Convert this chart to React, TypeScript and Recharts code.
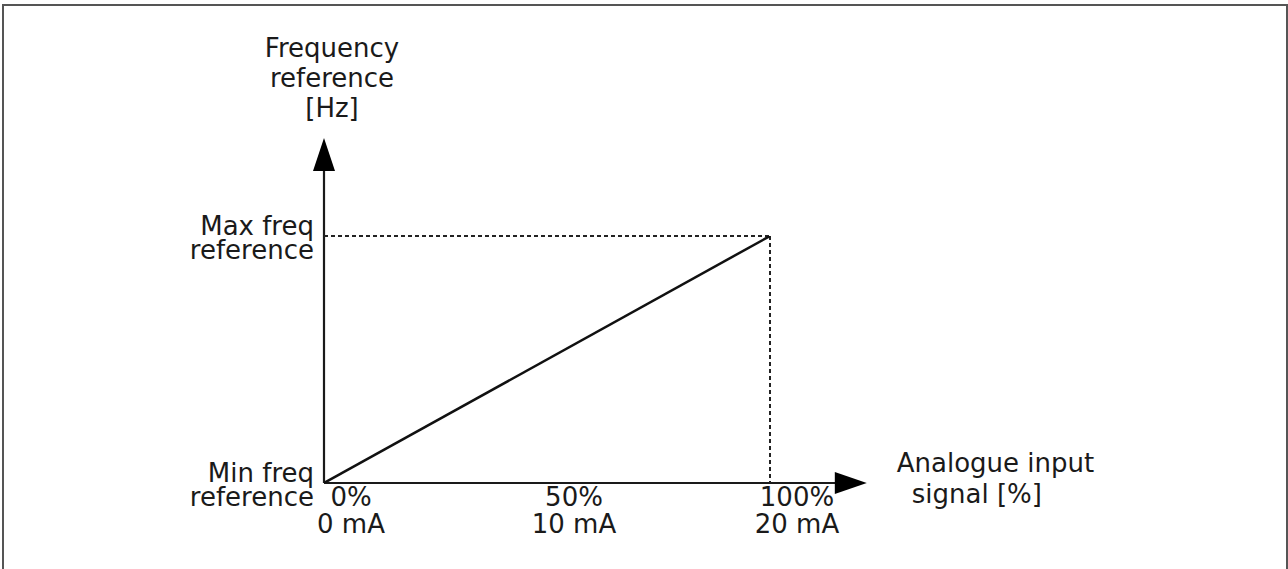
import React from 'react';
import { LineChart, Line, XAxis, YAxis, ReferenceLine } from 'recharts';

// analogue input (%) -> frequency reference (% of span between min and max)
const signalPct = [0, 100];
const freqPct = [0, 100];

const xTicks = [0, 50, 100];
const percentLabels = ['0%', '50%', '100%'];
const currentLabels = ['0 mA', '10 mA', '20 mA'];

const yTicks = [0, 100];
const yTickLabels = [
  ['Min freq', 'reference'],
  ['Max freq', 'reference'],
];

const yTitle = ['Frequency', 'reference', '[Hz]'];
const xTitle = ['Analogue input', 'signal [%]'];

// axes run a bit past the 100% point, ending in arrows
const xAxisEnd = 121.7;
const yAxisEnd = 139.7;

const lineData = signalPct.map((s, i) => ({ signal: s, freq: freqPct[i] }));

const FONT = '"DejaVu Sans", Verdana, sans-serif';
const SIZE = 26;
const INK = '#1a1a1a';

function XTick(props: any) {
  const { x, y, payload } = props;
  const i = xTicks.indexOf(payload.value);
  return (
    <g>
      <text x={x + 27} y={y + 23} textAnchor="middle" fontFamily={FONT} fontSize={SIZE} fill={INK}>
        {percentLabels[i]}
      </text>
      <text x={x + 27} y={y + 50} textAnchor="middle" fontFamily={FONT} fontSize={SIZE} fill={INK}>
        {currentLabels[i]}
      </text>
    </g>
  );
}

function YTick(props: any) {
  const { x, y, payload } = props;
  const lines = yTickLabels[yTicks.indexOf(payload.value)];
  return (
    <g>
      {lines.map((t, k) => (
        <text key={k} x={x} y={y - 1 + k * 24} textAnchor="end" fontFamily={FONT} fontSize={SIZE} fill={INK}>
          {t}
        </text>
      ))}
    </g>
  );
}

function XArrow(props: any) {
  const { x1, x2, y1 } = props;
  const start = Math.min(x1, x2);
  const tip = Math.max(x1, x2);
  return (
    <g>
      <line x1={start} y1={y1} x2={tip - 28} y2={y1} stroke={INK} strokeWidth={2.2} />
      <polygon points={`${tip},${y1} ${tip - 32},${y1 - 11} ${tip - 32},${y1 + 11}`} fill="#000" />
      <text x={tip + 30} y={y1 - 11} fontFamily={FONT} fontSize={SIZE} fill={INK}>{xTitle[0]}</text>
      <text x={tip + 45} y={y1 + 20} fontFamily={FONT} fontSize={SIZE} fill={INK}>{xTitle[1]}</text>
    </g>
  );
}

function YArrow(props: any) {
  const { x1, y1, y2 } = props;
  const base = Math.max(y1, y2);
  const tip = Math.min(y1, y2);
  return (
    <g>
      <line x1={x1} y1={base} x2={x1} y2={tip + 28} stroke={INK} strokeWidth={2.2} />
      <polygon points={`${x1},${tip} ${x1 - 11},${tip + 33} ${x1 + 11},${tip + 33}`} fill="#000" />
      {yTitle.map((t, k) => (
        <text key={k} x={x1 + 8} y={tip - 81 + k * 30} textAnchor="middle" fontFamily={FONT} fontSize={SIZE} fill={INK}>
          {t}
        </text>
      ))}
    </g>
  );
}

export default function App() {
  return (
    <div style={{ position: 'absolute', left: 0, top: 0, width: 1288, height: 569, background: '#fff', overflow: 'hidden' }}>
      <div
        style={{
          position: 'absolute',
          left: 2,
          top: 4,
          width: 1286,
          height: 600,
          boxSizing: 'border-box',
          borderTop: '2px solid #555',
          borderLeft: '2px solid #555',
          borderRight: '2px solid #555',
        }}
      />
      <div style={{ position: 'absolute', left: 0, top: 0 }}>
        <LineChart width={1288} height={569} data={lineData} margin={{ top: 236, right: 518, bottom: 26, left: 184 }}>
          <XAxis
            dataKey="signal"
            type="number"
            domain={[0, 100]}
            ticks={xTicks}
            allowDataOverflow
            axisLine={false}
            tickLine={false}
            tickSize={0}
            tickMargin={0}
            height={60}
            tick={<XTick />}
            interval={0}
          />
          <YAxis
            type="number"
            domain={[0, 100]}
            ticks={yTicks}
            allowDataOverflow
            axisLine={false}
            tickLine={false}
            tickSize={0}
            tickMargin={10}
            width={140}
            tick={<YTick />}
            interval={0}
          />
          <ReferenceLine
            segment={[{ x: 0, y: 0 }, { x: xAxisEnd, y: 0 }]}
            ifOverflow="visible"
            shape={<XArrow />}
          />
          <ReferenceLine
            segment={[{ x: 0, y: 0 }, { x: 0, y: yAxisEnd }]}
            ifOverflow="visible"
            shape={<YArrow />}
          />
          <ReferenceLine
            segment={[{ x: 0, y: 100 }, { x: 100, y: 100 }]}
            ifOverflow="visible"
            stroke="#222"
            strokeWidth={2}
            strokeDasharray="4 3"
          />
          <ReferenceLine
            segment={[{ x: 100, y: 100 }, { x: 100, y: 0 }]}
            ifOverflow="visible"
            stroke="#222"
            strokeWidth={2}
            strokeDasharray="4 3"
          />
          <Line
            dataKey="freq"
            type="linear"
            stroke="#111"
            strokeWidth={2.5}
            dot={false}
            isAnimationActive={false}
          />
        </LineChart>
      </div>
    </div>
  );
}
